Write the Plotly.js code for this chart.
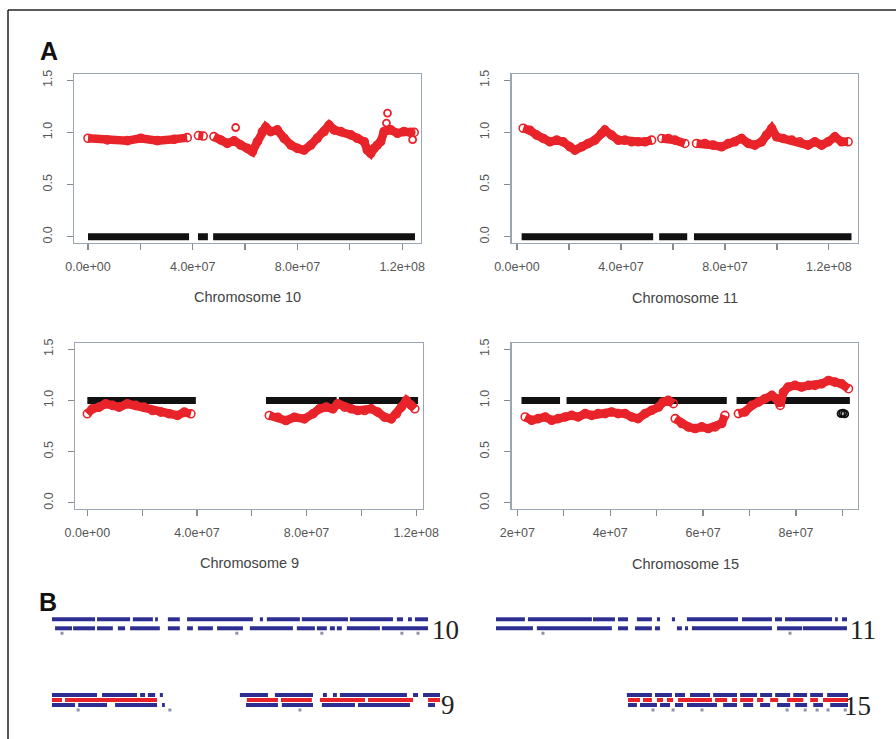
<!DOCTYPE html>
<html>
<head>
<meta charset="utf-8">
<script src="https://cdn.plot.ly/plotly-3.0.1.min.js"></script>
<style>html,body{margin:0;padding:0;background:#fff;}#chart{width:896px;height:739px;}</style>
</head>
<body>
<div id="chart"></div>
<script>
// ---------------- Panel A data (positions in Mb, ratio values) ----------------
const chr10Pos = [0.0, 7.4, 15.0, 20.1, 26.5, 32.9, 37.9, null, 42.2, 44.0, null, 48.1, 50.7, 53.2, 55.8, 58.3, 60.9, 62.8, 64.7, 66.6, 67.9, 69.8, 72.3, 74.9, 77.5, 80.0, 82.5, 85.1, 87.6, 90.2, 92.1, 94.0, 96.6, 100.4, 102.9, 105.5, 106.7, 108.0, 109.3, 110.5, 111.8, 113.1, 115.7, 118.2, 120.7, 123.3, 124.6];
const chr10Val = [0.944, 0.928, 0.921, 0.944, 0.921, 0.934, 0.950, null, 0.970, 0.965, null, 0.960, 0.928, 0.895, 0.920, 0.879, 0.847, 0.815, 0.911, 1.008, 1.050, 1.008, 1.024, 0.944, 0.879, 0.847, 0.831, 0.879, 0.944, 1.008, 1.070, 1.024, 1.008, 0.976, 0.944, 0.911, 0.831, 0.799, 0.847, 0.879, 0.911, 1.008, 1.024, 0.992, 1.008, 1.000, 1.000];
const chr10OutPos = [56.4, 114.4, 114.0, 124.0];
const chr10OutVal = [1.047, 1.185, 1.09, 0.93];
const chr10RefPos = [0, 38.6, null, 42.0, 45.8, null, 47.8, 124.9];
const chr10RefVal = [0, 0, null, 0, 0, null, 0, 0];

const chr11Pos = [2.4, 5.0, 7.6, 10.1, 12.7, 15.3, 17.8, 20.4, 22.3, 24.9, 27.4, 30.0, 32.6, 33.8, 36.4, 39.0, 41.5, 44.1, 46.7, 49.2, 51.8, null, 55.7, 58.2, 60.8, 64.6, null, 69.1, 72.3, 75.5, 78.7, 81.3, 83.8, 86.4, 89.0, 91.5, 94.1, 96.0, 98.0, 99.9, 102.4, 105.7, 108.8, 112.0, 114.6, 117.2, 119.7, 122.3, 124.9, 127.4];
const chr11Val = [1.04, 1.02, 0.974, 0.942, 0.91, 0.926, 0.91, 0.862, 0.83, 0.862, 0.894, 0.926, 0.99, 1.022, 0.974, 0.926, 0.926, 0.91, 0.91, 0.91, 0.926, null, 0.942, 0.942, 0.926, 0.894, null, 0.894, 0.894, 0.878, 0.862, 0.894, 0.91, 0.942, 0.894, 0.878, 0.91, 0.974, 1.038, 0.958, 0.942, 0.926, 0.91, 0.878, 0.91, 0.878, 0.91, 0.958, 0.91, 0.91];
const chr11RefPos = [1.8, 52.4, null, 54.7, 65.5, null, 68.1, 128.7];
const chr11RefVal = [0, 0, null, 0, 0, null, 0, 0];

const chr9Pos = [0.0, 1.8, 4.3, 6.7, 9.2, 11.6, 14.6, 17.7, 20.7, 23.8, 26.8, 29.9, 32.9, 35.4, 37.8, null, 66.4, 69.5, 72.5, 75.6, 79.2, 82.3, 84.7, 87.2, 89.6, 91.4, 93.9, 96.3, 98.7, 101.2, 103.6, 106.0, 108.5, 110.9, 112.8, 114.6, 116.4, 118.2, 119.5];
const chr9Val = [0.869, 0.918, 0.934, 0.967, 0.951, 0.934, 0.967, 0.951, 0.934, 0.901, 0.885, 0.869, 0.853, 0.885, 0.869, null, 0.853, 0.836, 0.803, 0.836, 0.82, 0.869, 0.918, 0.934, 0.918, 0.967, 0.934, 0.918, 0.901, 0.901, 0.918, 0.885, 0.836, 0.82, 0.869, 0.934, 1.0, 0.951, 0.918];
const chr9RefPos = [0.0, 39.6, null, 65.2, 91.0, null, 91.8, 120.7];
const chr9RefVal = [1, 1, null, 1, 1, null, 1, 1];

const chr15Pos = [21.7, 23.1, 24.5, 26.0, 27.4, 28.8, 30.3, 31.7, 33.1, 34.6, 36.0, 37.4, 38.9, 40.3, 41.7, 43.2, 44.6, 46.0, 47.5, 48.9, 50.4, 51.4, 52.5, 53.6, null, 54.0, 55.4, 56.8, 58.3, 59.7, 61.1, 62.6, 64.0, 64.7, null, 67.6, 69.0, 70.5, 71.9, 73.3, 74.8, 75.8, 76.6, 77.3, 78.3, 79.8, 81.2, 82.7, 84.1, 85.5, 87.0, 88.4, 89.8, 91.3];
const chr15Val = [0.838, 0.806, 0.822, 0.838, 0.806, 0.822, 0.838, 0.854, 0.838, 0.871, 0.854, 0.871, 0.871, 0.887, 0.871, 0.871, 0.838, 0.822, 0.871, 0.903, 0.935, 0.984, 1.0, 0.968, null, 0.822, 0.774, 0.741, 0.725, 0.741, 0.725, 0.741, 0.774, 0.854, null, 0.871, 0.887, 0.951, 0.984, 1.016, 1.049, 1.016, 0.951, 1.08, 1.13, 1.146, 1.13, 1.146, 1.146, 1.162, 1.194, 1.178, 1.162, 1.114];
const chr15RefPos = [20.9, 29.2, null, 30.6, 65.1, null, 67.2, 91.6];
const chr15RefVal = [1, 1, null, 1, 1, null, 1, 1];
const chr15LowPos = [89.7, 90.1, 90.5];
const chr15LowVal = [0.87, 0.875, 0.868];

// tick labels
const yTickVals = [0, 0.5, 1, 1.5];
const yTickText = ['0.0', '0.5', '1.0', '1.5'];
const xTickValsA = [0, 20, 40, 60, 80, 100, 120];
const xTickTextA = ['0.0e+00', '', '4.0e+07', '', '8.0e+07', '', '1.2e+08'];
const xTickVals15 = [20, 30, 40, 50, 60, 70, 80, 90];
const xTickText15 = ['2e+07', '', '4e+07', '', '6e+07', '', '8e+07', ''];
const panelTitles = ['Chromosome 10', 'Chromosome 11', 'Chromosome 9', 'Chromosome 15'];

// ---------------- Panel B data (segments in Mb) ----------------
const chr10Top = [[0,15.5],[16.2,28.1],[29.1,36.3],[37.1,38.1],[41.7,46.0],[48.6,72.3],[74.8,75.9],[77.3,89.2],[89.9,106.5],[107.2,122.7],[124.1,126.3],[128.1,129.5],[130.6,135.3]];
const chr10Bot = [[1.1,7.2],[7.6,15.5],[16.2,21.9],[23.7,26.3],[28.1,38.8],[41.7,46.0],[48.6,50.7],[52.5,57.9],[59.4,68.7],[71.2,86.7],[88.1,94.6],[95.3,98.9],[100.0,101.8],[102.5,104.3],[106.1,118.0],[118.7,135.3]];
const chr10Dots = [3.6, 66.5, 97.1, 125.9, 131.7];

const chr11Top = [[0,10.4],[11.5,34.5],[34.9,42.8],[43.9,47.5],[50.7,56.1],[57.9,59.0],[63.3,64.4],[68.7,87.1],[88.5,99.3],[100.4,102.9],[104.0,120.9],[122.0,123.0],[124.5,126.3]];
const chr11Bot = [[0,13.3],[14.7,41.7],[43.9,47.5],[50.0,56.1],[57.2,59.0],[65.1,66.9],[68.0,69.1],[70.5,99.3],[101.1,110.1],[110.4,126.3]];
const chr11Dots = [16.9, 105.8];

const chr9Top = [[0,16.2],[18.0,30.6],[31.7,33.5],[34.5,37.1],[38.8,39.9],[67.6,77.7],[80.2,93.9],[97.5,98.9],[101.1,102.5],[103.6,127.7],[129.9,131.7],[133.5,139.6]];
const chr9Red = [[0,3.6],[4.7,37.8],[70.1,81.3],[82.4,93.5],[96.4,112.6],[113.7,129.9],[135.3,139.6]];
const chr9Bot = [[0,8.3],[9.4,19.8],[22.7,37.8],[39.6,40.6],[69.8,81.3],[82.7,93.9],[97.1,109.0],[110.1,128.8],[135.3,137.8]];
const chr9Dots = [9.4, 42.4, 89.2];

const chr15Top = [[20.1,29.1],[30.2,36.3],[37.4,41.0],[42.8,50.0],[51.1,59.7],[60.8,66.9],[68.0,72.3],[73.4,78.8],[79.9,84.9],[86.0,90.6],[92.1,99.6]];
const chr15Red = [[20.5,24.8],[25.9,29.1],[30.9,33.1],[34.5,36.7],[38.5,50.7],[51.8,56.1],[57.9,59.7],[60.8,65.5],[66.9,69.1],[71.6,74.5],[77.7,83.5],[86.0,88.8],[90.6,99.6]];
const chr15Bot = [[20.5,23.7],[24.8,30.9],[32.0,35.6],[37.4,40.3],[41.7,52.5],[54.7,59.7],[61.9,65.5],[68.0,71.6],[74.1,78.8],[80.6,84.9],[87.1,90.6],[93.2,99.6]];
const chr15Dots = [29.5, 36.7, 47.1, 77.7, 84.2, 88.5, 92.4, 98.6];

const trackLabels = ['10', '11', '9', '15'];

// ---------------- build ----------------
const W = 896, H = 739;
const RED = '#e8242a', BLUE = '#2c2e92', BLACK = '#111111', GRAY = '#8c93a3';
const px = (a, b) => [a / W, b / W];
const py = (top, bot) => [1 - bot / H, 1 - top / H];
const tickFont = {family: 'Liberation Sans, Arial, sans-serif', size: 12.5, color: '#555'};

function redTrace(x, y, xa, ya) {
  return {x, y, xaxis: xa, yaxis: ya, type: 'scatter', mode: 'lines+markers', connectgaps: false,
    line: {color: RED, width: 8.5}, marker: {symbol: 'circle-open', size: 8, color: RED, line: {width: 1.6, color: RED}},
    hoverinfo: 'skip', showlegend: false};
}
function refTrace(x, y, xa, ya) {
  return {x, y, xaxis: xa, yaxis: ya, type: 'scatter', mode: 'lines', connectgaps: false,
    line: {color: BLACK, width: 7}, hoverinfo: 'skip', showlegend: false};
}
function ptsTrace(x, y, color, xa, ya) {
  return {x, y, xaxis: xa, yaxis: ya, type: 'scatter', mode: 'markers',
    marker: {symbol: 'circle-open', size: 7, color, line: {width: 1.8, color}},
    hoverinfo: 'skip', showlegend: false};
}
function segTrace(segs, level, color, xa, ya) {
  const x = [], y = [];
  segs.forEach(s => { x.push(s[0], s[1], null); y.push(level, level, null); });
  return {x, y, xaxis: xa, yaxis: ya, type: 'scatter', mode: 'lines', line: {color, width: 4},
    hoverinfo: 'skip', showlegend: false};
}
function dotTrace(xs, level, xa, ya) {
  return {x: xs, y: xs.map(() => level), xaxis: xa, yaxis: ya, type: 'scatter', mode: 'markers',
    marker: {symbol: 'square', size: 3, color: GRAY}, hoverinfo: 'skip', showlegend: false};
}

const traces = [
  refTrace(chr10RefPos, chr10RefVal, 'x', 'y'),
  redTrace(chr10Pos, chr10Val, 'x', 'y'),
  ptsTrace(chr10OutPos, chr10OutVal, RED, 'x', 'y'),
  refTrace(chr11RefPos, chr11RefVal, 'x2', 'y2'),
  redTrace(chr11Pos, chr11Val, 'x2', 'y2'),
  refTrace(chr9RefPos, chr9RefVal, 'x3', 'y3'),
  redTrace(chr9Pos, chr9Val, 'x3', 'y3'),
  refTrace(chr15RefPos, chr15RefVal, 'x4', 'y4'),
  ptsTrace(chr15LowPos, chr15LowVal, BLACK, 'x4', 'y4'),
  redTrace(chr15Pos, chr15Val, 'x4', 'y4'),
  // panel B
  segTrace(chr10Top, 0, BLUE, 'x5', 'y5'), segTrace(chr10Bot, 1, BLUE, 'x5', 'y5'), dotTrace(chr10Dots, 1.55, 'x5', 'y5'),
  segTrace(chr11Top, 0, BLUE, 'x6', 'y6'), segTrace(chr11Bot, 1, BLUE, 'x6', 'y6'), dotTrace(chr11Dots, 1.55, 'x6', 'y6'),
  segTrace(chr9Top, 0, BLUE, 'x7', 'y7'), segTrace(chr9Bot, 2, BLUE, 'x7', 'y7'), segTrace(chr9Red, 1, RED, 'x7', 'y7'), dotTrace(chr9Dots, 3, 'x7', 'y7'),
  segTrace(chr15Top, 0, BLUE, 'x8', 'y8'), segTrace(chr15Bot, 2, BLUE, 'x8', 'y8'), segTrace(chr15Red, 1, RED, 'x8', 'y8'), dotTrace(chr15Dots, 3, 'x8', 'y8')
];

function xAx(dom, range, anchor, tv, tt) {
  return {domain: dom, range, anchor, tickmode: 'array', tickvals: tv, ticktext: tt,
    ticks: 'outside', ticklen: 6, tickcolor: '#8a8a8a', tickwidth: 1.2,
    showline: true, mirror: true, linecolor: '#9aa6b4', linewidth: 1.3,
    showgrid: false, zeroline: false, tickfont: tickFont, ticklabelstandoff: 6, fixedrange: true};
}
function yAx(dom, anchor) {
  return {domain: dom, range: [-0.06, 1.56], anchor, tickmode: 'array', tickvals: yTickVals, ticktext: yTickText,
    tickangle: -90, ticks: 'outside', ticklen: 6, tickcolor: '#8a8a8a', tickwidth: 1.2,
    showline: true, mirror: true, linecolor: '#9aa6b4', linewidth: 1.3,
    showgrid: false, zeroline: false, tickfont: tickFont, ticklabelstandoff: 10, fixedrange: true};
}
function hidden(dom, range, anchor) {
  return {domain: dom, range, anchor, visible: false, fixedrange: true};
}
function label(text, xPx, yPx, font) {
  return {text, x: xPx / W, y: 1 - yPx / H, xref: 'paper', yref: 'paper', xanchor: 'center', yanchor: 'middle', showarrow: false, font};
}
const letterFont = {family: 'Liberation Sans, Arial', size: 25, color: '#111'};
const titleFont = {family: 'Liberation Sans, Arial', size: 14.5, color: '#444'};
const serifFont = {family: 'Liberation Serif, DejaVu Serif, serif', size: 27, color: '#222'};

const layout = {
  width: W, height: H, margin: {l: 0, r: 0, t: 0, b: 0}, paper_bgcolor: '#fff', plot_bgcolor: 'rgba(0,0,0,0)',
  showlegend: false,
  xaxis: xAx(px(74, 421), [-5.35, 127.2], 'y', xTickValsA, xTickTextA),
  yaxis: yAx(py(74, 243), 'x'),
  xaxis2: xAx(px(511.5, 858), [-2.1, 131.2], 'y2', xTickValsA, xTickTextA),
  yaxis2: yAx(py(74, 243), 'x2'),
  xaxis3: xAx(px(75, 423), [-4.5, 122.5], 'y3', xTickValsA, xTickTextA),
  yaxis3: yAx(py(343, 509), 'x3'),
  xaxis4: xAx(px(511.5, 858), [18.75, 93.35], 'y4', xTickVals15, xTickText15),
  yaxis4: yAx(py(343, 509), 'x4'),
  xaxis5: hidden(px(52, 428), [0, 135.3], 'y5'),
  yaxis5: hidden(py(612, 640), [2.3, -0.81], 'x5'),
  xaxis6: hidden(px(496, 847), [0, 126.3], 'y6'),
  yaxis6: hidden(py(612, 640), [2.3, -0.81], 'x6'),
  xaxis7: hidden(px(52, 440), [0, 139.6], 'y7'),
  yaxis7: hidden(py(688, 716), [4.2, -1.4], 'x7'),
  xaxis8: hidden(px(571, 848), [0, 99.6], 'y8'),
  yaxis8: hidden(py(688, 716), [4.2, -1.4], 'x8'),
  shapes: [
    {type: 'line', xref: 'paper', yref: 'paper', x0: 8 / W, x1: 8 / W, y0: 0, y1: 1 - 10 / H, line: {color: '#222', width: 1.5}},
    {type: 'line', xref: 'paper', yref: 'paper', x0: 8 / W, x1: 1, y0: 1 - 10 / H, y1: 1 - 10 / H, line: {color: '#222', width: 1.5}}
  ],
  annotations: [
    label('<b>A</b>', 49, 51, letterFont),
    label('<b>B</b>', 48, 602, letterFont),
    label(panelTitles[0], 247, 297, titleFont),
    label(panelTitles[1], 685, 298, titleFont),
    label(panelTitles[2], 249, 563, titleFont),
    label(panelTitles[3], 685, 564, titleFont),
    label(trackLabels[0], 445, 630, serifFont),
    label(trackLabels[1], 863, 630, serifFont),
    label(trackLabels[2], 448, 705, serifFont),
    label(trackLabels[3], 857, 706, serifFont)
  ]
};

Plotly.newPlot('chart', traces, layout, {staticPlot: true, displayModeBar: false});
</script>
</body>
</html>
